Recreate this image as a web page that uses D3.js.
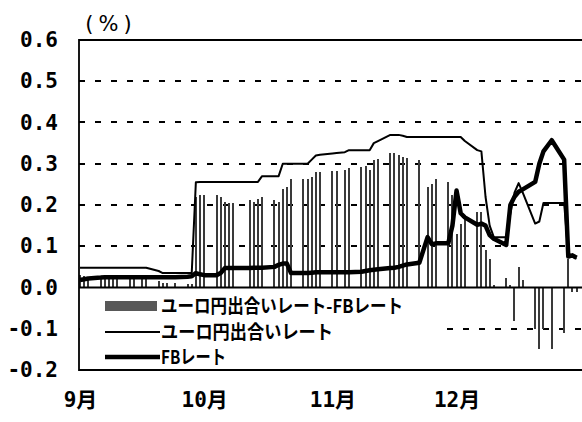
<!DOCTYPE html>
<html>
<head>
<meta charset="utf-8">
<script src="https://cdn.jsdelivr.net/npm/d3@7"></script>
<style>
  html, body { margin: 0; padding: 0; background: #fff; }
  svg { display: block; }
</style>
</head>
<body>
<div id="chart"></div>
<script>

// Business days, Sep - Dec 1999 (holidays skipped).
const dates = [
  '1999-09-01','1999-09-02','1999-09-03','1999-09-06','1999-09-07','1999-09-08','1999-09-09','1999-09-10',
  '1999-09-13','1999-09-14','1999-09-16','1999-09-17','1999-09-20','1999-09-21','1999-09-22','1999-09-24',
  '1999-09-27','1999-09-28','1999-09-29','1999-09-30',
  '1999-10-01','1999-10-04','1999-10-05','1999-10-06','1999-10-07','1999-10-08','1999-10-12','1999-10-13',
  '1999-10-14','1999-10-15','1999-10-18','1999-10-19','1999-10-20','1999-10-21','1999-10-22','1999-10-25',
  '1999-10-26','1999-10-27','1999-10-28','1999-10-29',
  '1999-11-01','1999-11-02','1999-11-04','1999-11-05','1999-11-08','1999-11-09','1999-11-10','1999-11-11',
  '1999-11-12','1999-11-15','1999-11-16','1999-11-17','1999-11-18','1999-11-19','1999-11-22','1999-11-24',
  '1999-11-25','1999-11-26','1999-11-29','1999-11-30',
  '1999-12-01','1999-12-02','1999-12-03','1999-12-06','1999-12-07','1999-12-08','1999-12-09','1999-12-10',
  '1999-12-13','1999-12-14','1999-12-15','1999-12-16','1999-12-17','1999-12-20','1999-12-21','1999-12-22',
  '1999-12-24','1999-12-27','1999-12-28','1999-12-29','1999-12-30'
];

// Euro-yen call rate (thin line).
const euroyen_rate = [
  0.048,0.048,0.048,0.048,0.048,0.048,0.048,0.048,0.048,0.048,0.048,0.048,0.040,0.035,0.035,0.035,0.035,0.035,0.255,0.256,
  0.256,0.256,0.256,0.256,0.256,0.256,0.256,0.256,0.256,0.270,0.270,0.270,0.300,0.300,0.300,0.300,0.300,0.310,0.320,0.322,
  0.325,0.326,0.328,0.333,0.333,0.333,0.333,0.350,0.355,0.370,0.370,0.370,0.368,0.365,0.365,0.365,0.365,0.365,0.365,0.365,
  0.365,0.365,0.355,0.333,0.330,0.220,0.150,0.122,0.122,0.180,0.230,0.253,0.230,0.155,0.160,0.205,0.205,0.205,0.080,0.075,0.070
];

// FB rate (thick line).
const fb_rate = [
  0.018,0.020,0.022,0.024,0.025,0.025,0.025,0.025,0.025,0.025,0.025,0.025,0.025,0.025,0.025,0.025,0.026,0.027,0.035,0.032,
  0.030,0.030,0.035,0.047,0.047,0.047,0.047,0.048,0.048,0.048,0.050,0.055,0.058,0.058,0.035,0.035,0.035,0.036,0.037,0.037,
  0.037,0.037,0.037,0.037,0.038,0.040,0.042,0.043,0.044,0.047,0.048,0.050,0.053,0.056,0.060,0.122,0.105,0.107,0.107,0.150,
  0.235,0.180,0.170,0.152,0.155,0.150,0.127,0.118,0.103,0.200,0.220,0.232,0.238,0.256,0.300,0.330,0.357,0.310,0.075,0.078,0.072
];

// Euro-yen minus FB (bars).
const spread = [
  0.030,0.028,0.026,0.024,0.023,0.023,0.023,0.023,0.023,0.023,0.023,0.023,0.015,0.010,0.010,0.010,0.009,0.008,0.220,0.224,
  0.224,0.224,0.220,0.208,0.205,0.205,0.212,0.208,0.214,0.219,0.212,0.208,0.240,0.244,0.263,0.263,0.263,0.267,0.281,0.281,
  0.283,0.283,0.285,0.290,0.293,0.295,0.285,0.310,0.312,0.327,0.325,0.321,0.317,0.313,0.309,0.244,0.252,0.262,0.256,0.225,
  0.130,0.155,0.165,0.184,0.184,0.090,0.070,0.005,0.022,0.005,-0.080,0.050,0.018,-0.100,-0.150,-0.100,-0.150,-0.110,0.070,-0.010,-0.010
];

const y_ticks = [0.6, 0.5, 0.4, 0.3, 0.2, 0.1, 0.0, -0.1, -0.2];
const grid_values = [0.5, 0.4, 0.3, 0.2, 0.1, -0.1];
const month_ticks = ['1999-09-01', '1999-10-01', '1999-11-01', '1999-12-01'];
const month_labels = ['9月', '10月', '11月', '12月'];
const legend_labels = ['ユーロ円出合いレート-FBレート', 'ユーロ円出合いレート', 'FBレート'];
const legend_widths = [242, 172, 65];

const settings = {
  width: 582,
  height: 422,
  left: 79,
  right: 586,
  top: 40,
  bottom: 370,
  jp_font: '"Noto Sans CJK JP", sans-serif',
  num_font: '"DejaVu Sans Mono", "Noto Sans CJK JP", monospace'
};

const parse = d3.timeParse('%Y-%m-%d');
const data = dates.map(function(d, i){
  return { date: parse(d), euroyen: euroyen_rate[i], fb: fb_rate[i], spread: spread[i] };
});

const svg = d3.select('#chart')
  .append('svg')
    .attr('width', settings.width)
    .attr('height', settings.height);

// Sep 1 sits on the axis, roughly 4.14 px per calendar day.
const x = d3.scaleTime()
  .domain([parse('1999-09-01'), parse('2000-01-01')])
  .range([80, 80 + 122 * 4.138]);
const y = d3.scaleLinear()
  .domain([-0.2, 0.6])
  .range([settings.bottom, settings.top]);

// Dashed grid lines.
svg.append('g')
  .selectAll('line')
  .data(grid_values)
  .enter().append('line')
    .attr('x1', settings.left)
    .attr('x2', settings.right)
    .attr('y1', function(d){ return Math.round(y(d)) })
    .attr('y2', function(d){ return Math.round(y(d)) })
    .attr('stroke', '#000')
    .attr('stroke-width', 2)
    .attr('stroke-dasharray', '6 10')
    .attr('shape-rendering', 'crispEdges');

// Spread bars.
svg.append('g')
  .attr('shape-rendering', 'crispEdges')
  .selectAll('rect')
  .data(data)
  .enter().append('rect')
    .attr('x', function(d){ return Math.round(x(d.date) - 1) })
    .attr('y', function(d){ return y(Math.max(0, d.spread)) })
    .attr('width', 2)
    .attr('height', function(d){ return Math.abs(y(d.spread) - y(0)) })
    .attr('fill', '#3a3a3a');

// Lines.
const euroyen_line = d3.line()
  .x(function(d){ return x(d.date) })
  .y(function(d){ return y(d.euroyen) });
const fb_line = d3.line()
  .x(function(d){ return x(d.date) })
  .y(function(d){ return y(d.fb) });

svg.append('path')
  .datum(data)
  .attr('d', euroyen_line)
  .attr('fill', 'none')
  .attr('stroke', '#000')
  .attr('stroke-width', 2)
  .attr('stroke-linejoin', 'round');

svg.append('path')
  .datum(data)
  .attr('d', fb_line)
  .attr('fill', 'none')
  .attr('stroke', '#000')
  .attr('stroke-width', 4.5)
  .attr('stroke-linejoin', 'round');

// Legend box, covers the lower left of the plot.
const legend = svg.append('g');
legend.append('rect')
  .attr('x', settings.left + 1)
  .attr('y', y(0) + 1)
  .attr('width', 357)
  .attr('height', settings.bottom - y(0) - 2)
  .attr('fill', '#fff');

const legend_y = [306, 332, 357];
legend.append('rect')
  .attr('x', 105)
  .attr('y', legend_y[0] - 5)
  .attr('width', 52)
  .attr('height', 10)
  .attr('fill', '#585858');
legend.append('line')
  .attr('x1', 105).attr('x2', 160)
  .attr('y1', legend_y[1]).attr('y2', legend_y[1])
  .attr('stroke', '#000').attr('stroke-width', 2);
legend.append('line')
  .attr('x1', 105).attr('x2', 160)
  .attr('y1', legend_y[2]).attr('y2', legend_y[2])
  .attr('stroke', '#000').attr('stroke-width', 4.5);

legend.selectAll('text')
  .data(legend_labels)
  .enter().append('text')
    .attr('x', 161)
    .attr('y', function(d, i){ return legend_y[i] })
    .attr('dy', '0.36em')
    .attr('textLength', function(d, i){ return legend_widths[i] })
    .attr('lengthAdjust', 'spacingAndGlyphs')
    .attr('font-family', settings.jp_font)
    .attr('font-size', 19)
    .attr('font-weight', 'bold')
    .text(function(d){ return d });

// Zero line and frame.
svg.append('line')
  .attr('x1', settings.left).attr('x2', settings.right)
  .attr('y1', y(0)).attr('y2', y(0))
  .attr('stroke', '#000').attr('stroke-width', 1.8);
svg.append('path')
  .attr('d', 'M' + settings.right + ',' + settings.top + 'H' + settings.left + 'V' + settings.bottom + 'H' + settings.right)
  .attr('fill', 'none')
  .attr('stroke', '#000')
  .attr('stroke-width', 1.8);

// Y axis labels.
const y_axis = svg.append('g')
  .attr('transform', 'translate(58,0)')
  .call(d3.axisLeft(y).tickValues(y_ticks).tickSize(0).tickPadding(0)
    .tickFormat(function(d){ return d.toFixed(1) }));
y_axis.select('.domain').remove();
y_axis.selectAll('text')
  .attr('font-family', settings.num_font)
  .attr('font-size', 21)
  .attr('font-weight', 'bold')
  .attr('fill', '#000');

// Month labels.
const x_axis = svg.append('g')
  .attr('transform', 'translate(0,392)')
  .call(d3.axisBottom(x).tickValues(month_ticks.map(parse)).tickSize(0).tickPadding(0)
    .tickFormat(function(d, i){ return month_labels[i] }));
x_axis.select('.domain').remove();
x_axis.selectAll('text')
  .attr('font-family', settings.num_font)
  .attr('font-size', 21)
  .attr('font-weight', 'bold')
  .attr('fill', '#000');

// Unit label.
svg.append('text')
  .attr('x', 111)
  .attr('y', 23)
  .attr('dy', '0.36em')
  .attr('text-anchor', 'middle')
  .attr('font-family', '"DejaVu Sans", sans-serif')
  .attr('font-size', 21)
  .attr('letter-spacing', 5)
  .text('(%)');

</script>
</body>
</html>
